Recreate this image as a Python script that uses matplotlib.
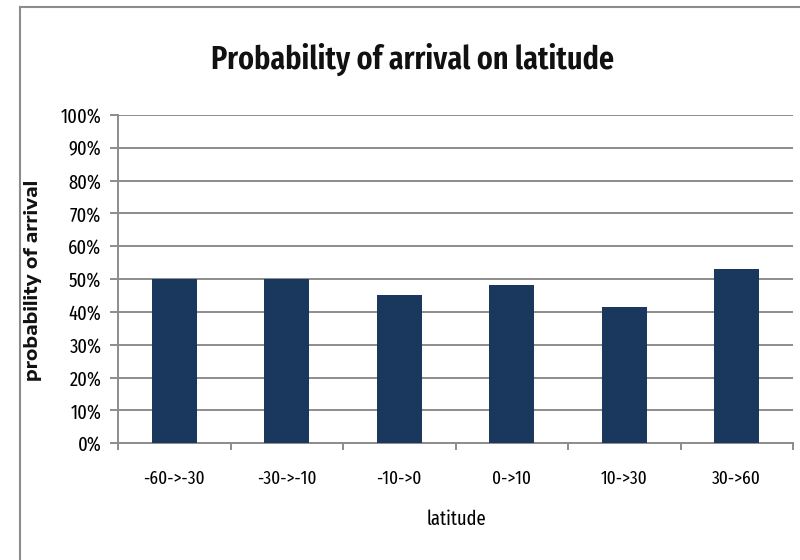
import matplotlib
matplotlib.use("Agg")
import matplotlib.pyplot as plt
from matplotlib.ticker import PercentFormatter, FixedLocator
from matplotlib.lines import Line2D

categories = ["-60->-30", "-30->-10", "-10->0", "0->10", "10->30", "30->60"]
probability = [0.50, 0.50, 0.453, 0.482, 0.416, 0.530]
y_ticks = [i / 10 for i in range(11)]

BODY = ["Fira Sans Extra Condensed", "Carlito", "DejaVu Sans"]
TITLE = ["Fira Sans Extra Condensed", "Carlito", "DejaVu Sans"]
YLAB = ["Encode Sans Expanded", "Liberation Sans", "DejaVu Sans"]

bar_color = "#1A375E"
grid_color = "#8C8C8C"
text_color = "#000000"

W, H = 800, 560
fig = plt.figure(figsize=(W / 100, H / 100), dpi=100)
ax = fig.add_axes([118 / W, 1 - 443.3 / H, 675 / W, 328.3 / H])

x = list(range(len(categories)))
ax.bar(x, probability, width=0.4, color=bar_color, zorder=3)

ax.set_xlim(-0.5, len(categories) - 0.5)
ax.set_ylim(0, 1)
ax.yaxis.set_major_locator(FixedLocator(y_ticks))
ax.yaxis.set_major_formatter(PercentFormatter(1.0, decimals=0))
ax.grid(axis="y", color=grid_color, linewidth=1.4, zorder=0)

ax.set_xticks(x)
ax.set_xticklabels(categories)
ax.set_xticks([i - 0.5 for i in range(len(categories) + 1)], minor=True)
ax.tick_params(axis="x", which="major", length=0, pad=19)
ax.tick_params(axis="x", which="minor", length=5, color=grid_color, width=1.4)
ax.tick_params(axis="y", length=6, color=grid_color, width=1.4, pad=6)

for lab in ax.get_yticklabels():
    lab.set_fontfamily(BODY)
    lab.set_fontweight(400)
    lab.set_fontsize(14.5)
    lab.set_color(text_color)
for lab in ax.get_xticklabels():
    lab.set_fontfamily(BODY)
    lab.set_fontweight(400)
    lab.set_fontsize(13.5)
    lab.set_color(text_color)

for side in ("top", "right"):
    ax.spines[side].set_visible(False)
for side in ("left", "bottom"):
    ax.spines[side].set_color(grid_color)
    ax.spines[side].set_linewidth(1.4)

# axis titles and chart title placed in pixel terms
fig.text(456 / W, 1 - 525 / H, "latitude", ha="center", va="baseline",
         family=BODY, fontweight=400, fontsize=14.5, color=text_color)
fig.text(33 / W, 1 - 280 / H, "probability of arrival", ha="center",
         va="center", rotation=90, family=YLAB, fontweight="bold",
         fontsize=13, color="#111111")
fig.text(413 / W, 1 - 69 / H, "Probability of arrival on latitude",
         ha="center", va="baseline", family=TITLE, fontweight="semibold",
         fontsize=23.5, color="#111111")

# chart frame: top and left edges
fig.add_artist(Line2D([20 / W, 1], [1 - 7 / H] * 2, color=grid_color,
                      linewidth=1.5, transform=fig.transFigure))
fig.add_artist(Line2D([20 / W] * 2, [0, 1 - 7 / H], color=grid_color,
                      linewidth=1.5, transform=fig.transFigure))

fig.savefig("out.png", dpi=100)
